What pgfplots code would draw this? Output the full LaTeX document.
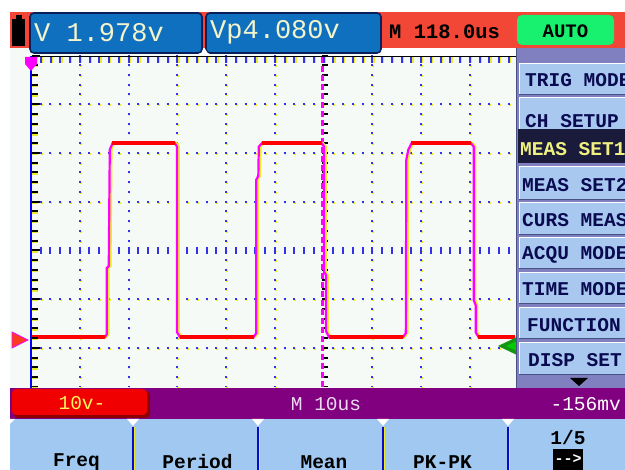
\documentclass[border=0pt]{standalone}
\usepackage{pgfplots}
\pgfplotsset{compat=1.18}
\usepackage{pgfplotstable}
\usepackage{fontspec}
\setmainfont{Liberation Sans}
\newfontfamily\mono{Liberation Mono}
\newcommand\fs[1]{\fontsize{#1}{#1}\selectfont}

\definecolor{hdrred}{RGB}{242,70,54}
\definecolor{boxblue}{RGB}{16,112,192}
\definecolor{boxnavy}{RGB}{10,30,90}
\definecolor{boxtext}{RGB}{244,244,204}
\definecolor{autogreen}{RGB}{24,240,112}
\definecolor{menubg}{RGB}{128,128,192}
\definecolor{btn}{RGB}{168,200,240}
\definecolor{btnshadow}{RGB}{70,80,130}
\definecolor{btnsel}{RGB}{26,26,58}
\definecolor{seltext}{RGB}{240,240,128}
\definecolor{menutext}{RGB}{10,10,80}
\definecolor{barpurple}{RGB}{128,0,128}
\definecolor{plotbg}{RGB}{246,250,246}
\definecolor{dotblue}{RGB}{50,50,235}
\definecolor{dotyellow}{RGB}{235,235,40}
\definecolor{tracered}{RGB}{255,0,0}
\definecolor{tracemag}{RGB}{255,0,255}
\definecolor{gndmark}{RGB}{250,60,30}
\definecolor{trigmark}{RGB}{20,150,20}
\definecolor{bottombtn}{RGB}{160,200,240}
\definecolor{sepblue}{RGB}{10,10,200}
\definecolor{chred}{RGB}{240,0,0}
\definecolor{chtext}{RGB}{255,245,90}
\definecolor{tbtext}{RGB}{236,218,240}

% waveform (x and y in screen divisions)
\pgfplotstableread{
x y
0 -1.78
1.513 -1.78
1.554 -1.718
1.554 -0.36
1.595 -0.319
1.616 2.068
1.677 2.21
2.945 2.21
2.996 2.13
2.996 -1.677
3.057 -1.78
4.560 -1.78
4.622 -1.697
4.622 1.451
4.663 1.533
4.673 2.13
4.744 2.21
5.951 2.21
6.012 2.13
6.012 -0.442
6.053 -0.504
6.053 -1.656
6.115 -1.78
7.628 -1.78
7.689 -1.697
7.699 1.862
7.740 2.068
7.812 2.21
9.018 2.21
9.080 2.13
9.080 -1.019
9.121 -1.121
9.121 -1.677
9.182 -1.78
9.918 -1.78
}\trace

\pgfplotstableread{
x y
0 -1.78
1.523 -1.78
nan nan
1.67 2.21
2.955 2.21
nan nan
3.05 -1.78
4.57 -1.78
nan nan
4.735 2.21
5.96 2.21
nan nan
6.105 -1.78
7.638 -1.78
nan nan
7.805 2.21
9.028 2.21
nan nan
9.175 -1.78
9.918 -1.78
}\hsegs

\begin{document}
\begin{tikzpicture}[x=1pt,y=1pt]
\path[use as bounding box] (0,0) rectangle (625,470);
% ---------- background (image pixel coords, y down)
\begin{scope}[yshift=470pt,y=-1pt]
\fill[white] (0,0) rectangle (625,470);
\fill[plotbg] (10,48) rectangle (516,388);
\end{scope}

% ---------- scope screen
\begin{axis}[
  at={(31pt,83pt)}, anchor=south west, scale only axis,
  width=487.5pt, height=331.5pt,
  xmin=0, xmax=10, ymin=-2.8, ymax=4,
  axis line style={draw=none}, tick style={draw=none},
  xticklabels={}, yticklabels={},
  xtick={1,2,3,4,5,7,8,9}, ytick={-2,-1,1,2,3},
  minor xtick={1,2,3,4,5,7,8,9}, minor ytick={-2,-1,1,2,3},
  grid=both,
  minor grid style={dotyellow, line width=1.8pt, dash pattern=on 1.8pt off 7.95pt, dash phase=0.9pt, xshift=1pt, yshift=-1pt},
  major grid style={dotblue, line width=2pt, dash pattern=on 2pt off 7.75pt, dash phase=1pt},
  extra x ticks={6}, extra y ticks={0},
  extra x tick labels={}, extra y tick labels={},
  extra x tick style={grid=major, major grid style={black, line width=6pt, dash pattern=on 2pt off 7.75pt, dash phase=1pt, xshift=1.5pt}},
  extra y tick style={grid=major, major grid style={dotblue, line width=7pt, dash pattern=on 2pt off 7.75pt, dash phase=1pt}},
  clip=true,
]
\draw[tracemag, line width=3pt, dash pattern=on 6pt off 3pt] (axis cs:5.985,-2.8) -- (axis cs:5.985,4);
\addplot[dotyellow, line width=2pt, xshift=1.8pt, mark=none] table {\trace};
\addplot[tracemag, line width=2.2pt, mark=none] table {\trace};
\addplot[tracered, line width=3.8pt, mark=none, unbounded coords=jump] table {\hsegs};
\end{axis}

% ---------- overlays (image pixel coords, y down)
\begin{scope}[yshift=470pt,y=-1pt]
% left axis and ticks
\draw[dotyellow, line width=6pt, dash pattern=on 2pt off 7.75pt, dash phase=1pt] (35,56.7) -- (35,388.2);
\draw[black, line width=6pt, dash pattern=on 2pt off 7.75pt, dash phase=1pt] (35,55.5) -- (35,387);
\draw[black, line width=8pt, dash pattern=on 2pt off 46.75pt, dash phase=1pt] (36,55.5) -- (36,387);
\draw[blue, line width=2pt] (31,56) -- (31,388);
% top ticks
\draw[dotyellow, line width=6pt, dash pattern=on 1.6pt off 8.15pt, dash phase=0.8pt] (32.6,60.5) -- (520,60.5);
\draw[dotblue, line width=6pt, dash pattern=on 2pt off 7.75pt, dash phase=1pt] (31,60) -- (518.5,60);
\draw[black, line width=1pt] (31,56.5) -- (516,56.5);

% header
\fill[hdrred] (10,12) rectangle (625,48);
\fill[white] (381,48) rectangle (516,56);
\fill[black] (12,19) rectangle (25,46);
\fill[black] (15.5,15) rectangle (21.5,19);
\draw[boxnavy, line width=1.6pt, fill=boxblue, rounded corners=4pt] (30,13) rectangle (202,53);
\draw[boxnavy, line width=1.6pt, fill=boxblue, rounded corners=4pt] (206,13) rectangle (381,53);
\fill[white] (201,55) -- (205,49) -- (209,55) -- cycle;
\node[anchor=west, inner sep=0pt, text=boxtext] at (34,32.5) {\mono\fs{27}V 1.978v};
\node[anchor=west, inner sep=0pt, text=boxtext] at (210,32.5) {\mono\fs{27}Vp4.080v};
\node[anchor=west, inner sep=0pt, text=black] at (389,32) {\mono\bfseries\fs{20.5}M 118.0us};
\fill[autogreen, rounded corners=5pt] (517,15) rectangle (614,45);
\node[inner sep=0pt, text=black] at (565.5,31) {\mono\bfseries\fs{19}AUTO};

% markers
\fill[tracemag] (25,57) -- (37,57) -- (37,64) -- (31,71) -- (25,64) -- cycle;
\draw[tracemag, line width=0.8pt, fill=gndmark] (12,332) -- (28,340) -- (12,348) -- cycle;
\fill[trigmark] (517,337) -- (498,346) -- (517,355) -- cycle;
\fill[green!80!black] (517,341) -- (506,346) -- (517,351) -- cycle;

% right menu
\fill[menubg] (516,48) rectangle (625,388);
\draw[btnshadow, line width=1.5pt] (516.7,48) -- (516.7,388);
\foreach \ya/\yb/\yt/\xt/\lab in {63/95/80/525/TRIG MODE, 97/130/121/525/CH SETUP, 166/200/185/522/MEAS SET2, 202/235/220/522/CURS MEAS, 237/269/255/522/ACQU MODE, 272/304/289/522/TIME MODE, 307/339/325/527/FUNCTION, 342/375/360/528/DISP SET}{
  \fill[btn] (519,\ya) rectangle (625,\yb);
  \draw[white, line width=1.2pt] (519.6,\yb) -- (519.6,\ya+0.6) -- (625,\ya+0.6);
  \draw[btnshadow, line width=1.4pt] (519,\yb-0.7) -- (625,\yb-0.7);
  \node[anchor=west, inner sep=0pt, text=menutext] at (\xt,\yt) {\mono\bfseries\fs{19.5}\lab};
}
\fill[btnsel] (518,129) rectangle (625,163);
\node[anchor=west, inner sep=0pt, text=seltext] at (520,149) {\mono\bfseries\fs{19.5}MEAS SET1};
\fill[black] (570,378) -- (588,378) -- (579,386) -- cycle;

% bottom status bar
\fill[barpurple] (10,388) rectangle (625,419);
\fill[red!55!black, rounded corners=4pt] (14,391) rectangle (150,418);
\fill[chred, rounded corners=4pt] (12,389) rectangle (147,415);
\node[inner sep=0pt, text=chtext] at (82,403) {\mono\fs{19.5}10v-};
\node[inner sep=0pt, text=tbtext] at (326,404) {\mono\fs{19.5}M 10us};
\node[anchor=east, inner sep=0pt, text=white] at (621,404) {\mono\fs{19.5}-156mv};

% bottom soft keys
\fill[bottombtn] (10,419) rectangle (625,470);
\foreach \xs in {133,258,383,508}{
  \draw[dotyellow, line width=1pt] (\xs+1.6,427) -- (\xs+1.6,470);
  \draw[sepblue, line width=2pt] (\xs,427) -- (\xs,470);
  \fill[white] (\xs-6,419) -- (\xs+6,419) -- (\xs,426) -- cycle;
}
\fill[white] (10,419) -- (15,419) -- (10,424) -- cycle;
\node[inner sep=0pt, text=black] at (76.5,462) {\mono\bfseries\fs{19.5}Freq};
\node[inner sep=0pt, text=black] at (197.5,462) {\mono\bfseries\fs{19.5}Period};
\node[inner sep=0pt, text=black] at (324,462) {\mono\bfseries\fs{19.5}Mean};
\node[inner sep=0pt, text=black] at (442.5,462) {\mono\bfseries\fs{19.5}PK-PK};
\node[inner sep=0pt, text=black] at (568,438) {\mono\bfseries\fs{19.5}1/5};
\fill[black] (553,449) rectangle (583,470);
\node[inner sep=0pt, text=white] at (568,459) {\mono\bfseries\fs{15}-{}->};
\end{scope}
\end{tikzpicture}
\end{document}
